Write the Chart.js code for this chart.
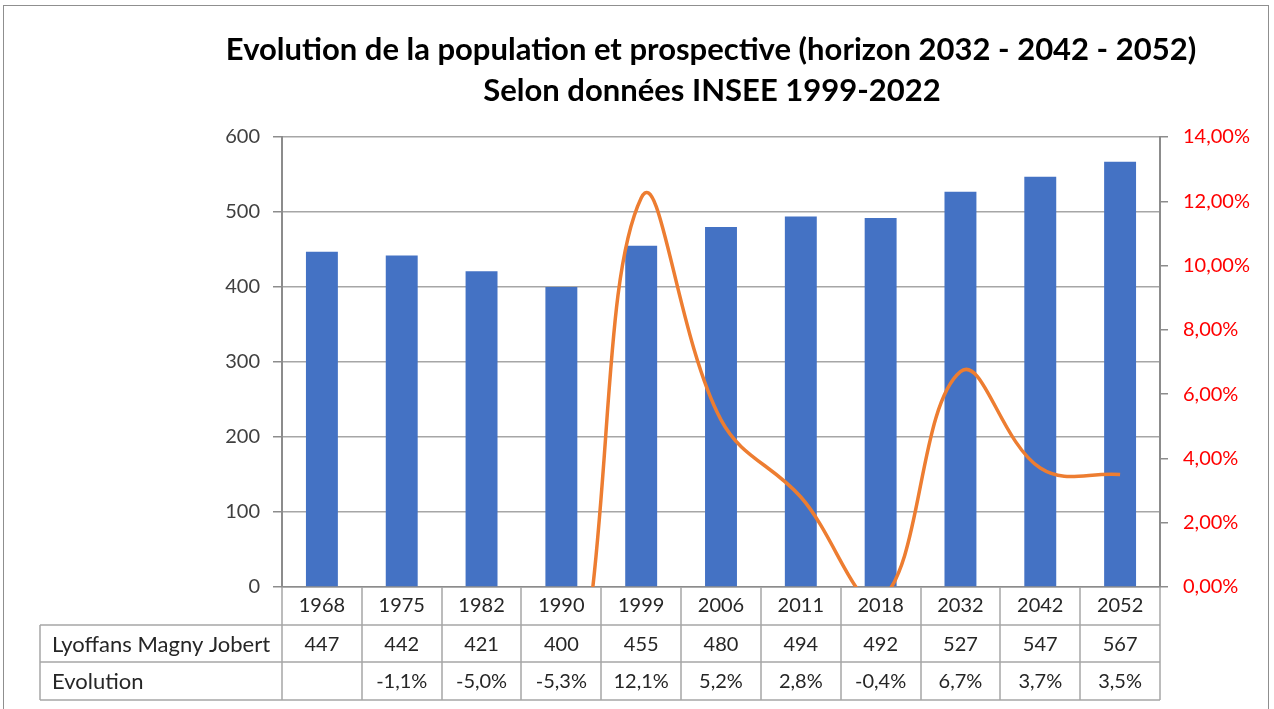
<!DOCTYPE html>
<html lang="fr">
<head>
<meta charset="utf-8">
<title>Evolution de la population</title>
<script src="https://cdn.jsdelivr.net/npm/chart.js@4.4.1/dist/chart.umd.min.js"></script>
<style>
  html, body { margin: 0; padding: 0; background: #fff; }
  canvas { display: block; }
</style>
</head>
<body>
<canvas id="chart" width="1274" height="709"></canvas>
<script>
// données
const years = ["1968", "1975", "1982", "1990", "1999", "2006", "2011", "2018", "2032", "2042", "2052"];
const population = [447, 442, 421, 400, 455, 480, 494, 492, 527, 547, 567];
const evolution = [null, -1.1, -5.0, -5.3, 12.1, 5.2, 2.8, -0.4, 6.7, 3.7, 3.5];
const rowNames = ["Lyoffans Magny Jobert", "Evolution"];
const titleLines = [
  "Evolution de la population et prospective (horizon 2032 - 2042 - 2052)",
  "Selon données INSEE 1999-2022"
];

const FONT = "Lato, 'Noto Sans', sans-serif";
const GRID = "#a6a6a6";
const AXIS = "#8c8c8c";
const TEXT = "#262626";

const pct = (v, d) => v.toFixed(d).replace(".", ",") + "%";

// titre + tableau de données sous l'axe
const tablePlugin = {
  id: "dataTable",
  afterDraw(chart) {
    const ctx = chart.ctx;
    const xs = chart.scales.x;
    const area = chart.chartArea;
    const n = years.length;
    const colW = (xs.right - xs.left) / n;
    const tableLeft = 40;
    const rows = [area.bottom, area.bottom + 38, area.bottom + 75, area.bottom + 113];

    ctx.save();
    ctx.strokeStyle = GRID;
    ctx.lineWidth = 1.5;
    ctx.beginPath();
    for (let i = 0; i <= n; i++) {
      const x = Math.round(xs.left + i * colW);
      ctx.moveTo(x, rows[0]);
      ctx.lineTo(x, rows[3]);
    }
    for (let r = 1; r <= 3; r++) {
      ctx.moveTo(tableLeft, rows[r]);
      ctx.lineTo(xs.right, rows[r]);
    }
    ctx.moveTo(tableLeft, rows[1]);
    ctx.lineTo(tableLeft, rows[3]);
    ctx.stroke();

    ctx.fillStyle = TEXT;
    ctx.textBaseline = "middle";
    const rowVals = [population.map(String), evolution.map(v => v == null ? "" : pct(v, 1))];
    rowVals.forEach((vals, r) => {
      const cy = (rows[r + 1] + rows[r + 2]) / 2 + 1;
      ctx.font = "22px " + FONT;
      ctx.textAlign = "left";
      ctx.fillText(rowNames[r], tableLeft + 12, cy);
      ctx.font = "20px " + FONT;
      ctx.textAlign = "center";
      vals.forEach((t, i) => ctx.fillText(t, xs.getPixelForValue(i), cy));
    });

    // cadre
    ctx.lineWidth = 1;
    ctx.strokeStyle = "#8f8f8f";
    ctx.strokeRect(3.5, 5.5, 1265, 720);

    // titre
    ctx.fillStyle = "#000";
    ctx.font = "bold 31px " + FONT;
    ctx.textAlign = "center";
    ctx.fillText(titleLines[0], 711, 50);
    ctx.fillText(titleLines[1], 712, 91);
    ctx.restore();
  }
};

new Chart(document.getElementById("chart"), {
  type: "bar",
  data: {
    labels: years,
    datasets: [
      {
        type: "line",
        label: "Evolution",
        data: evolution,
        yAxisID: "y1",
        borderColor: "#ed7d31",
        borderWidth: 3.5,
        pointRadius: 0,
        tension: 0.4,
        fill: false,
        order: 0
      },
      {
        label: "Lyoffans Magny Jobert",
        data: population,
        yAxisID: "y",
        backgroundColor: "#4472c4",
        categoryPercentage: 0.4,
        barPercentage: 1,
        order: 1
      }
    ]
  },
  options: {
    responsive: false,
    animation: false,
    layout: { padding: { top: 137, left: 0, right: 0, bottom: 0 } },
    plugins: {
      legend: { display: false },
      title: { display: false },
      tooltip: { enabled: false }
    },
    scales: {
      x: {
        grid: { display: false, drawTicks: false },
        border: { color: AXIS, width: 1.5 },
        ticks: { color: TEXT, font: { family: FONT, size: 20 }, padding: 7, maxRotation: 0 },
        afterFit(s) { s.height = 122; }
      },
      y: {
        position: "left",
        min: 0,
        max: 600,
        ticks: { stepSize: 100, color: "#404040", font: { family: FONT, size: 20 }, padding: 13 },
        grid: { color: GRID, lineWidth: 1.5, tickLength: 9, tickColor: AXIS },
        border: { color: AXIS, width: 2 },
        afterFit(s) { s.width = 282; }
      },
      y1: {
        position: "right",
        min: 0,
        max: 14,
        ticks: {
          stepSize: 2,
          color: "#ff0000",
          font: { family: FONT, size: 20 },
          padding: 15,
          callback: v => pct(v, 2)
        },
        grid: { drawOnChartArea: false, tickLength: 8, color: AXIS, lineWidth: 1.5 },
        border: { color: AXIS, width: 2 },
        afterFit(s) { s.width = 114; }
      }
    }
  },
  plugins: [tablePlugin]
});
</script>
</body>
</html>
